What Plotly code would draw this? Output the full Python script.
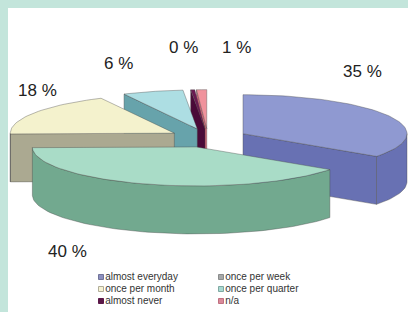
import math
import plotly.graph_objects as go

# ---------------- data ----------------
categories = ["almost everyday", "once per quarter", "once per month",
              "once per week", "almost never", "n/a"]
values = [35, 40, 18, 6, 0.4, 1]          # percent, clockwise from 12 o'clock
slice_labels = ["35 %", "40 %", "18 %", "6 %", "0 %", "1 %"]
legend_order = ["almost everyday", "once per week", "once per month",
                "once per quarter", "almost never", "n/a"]

# ---------------- styles ----------------
top_colors = ["#8f99d1", "#a9dcc7", "#f4f2cd", "#addee3", "#6b1a52", "#f0929c"]
side_colors = ["#6871b3", "#72a98f", "#aba991", "#67a3ab", "#4a0a38", "#d66a7a"]
legend_colors = {"almost everyday": "#8c8fbf", "once per week": "#a6a8a8",
                 "once per month": "#f6f2d4", "once per quarter": "#a9d9d2",
                 "almost never": "#5b1848", "n/a": "#d98a9a"}
legend_lines = {"almost everyday": "#707399", "once per week": "#8a8c8c",
                "once per month": "#b0ad98", "once per quarter": "#7fa9a2",
                "almost never": "#5b1848", "n/a": "#c07080"}

CX, CY = 208.0, 138.0   # pie centre (pixels)
RX, RY = 164.0, 39.0    # ellipse radii
DEPTH = 48.0
EXPLODE = 0.24
EDGE = "rgba(70,70,70,0.55)"

fig = go.Figure()

total = sum(values)
angles = [0.0]
for v in values:
    angles.append(angles[-1] + v / total * 360.0)


def rim(t, ox, oy, dz=0.0):
    r = math.radians(t)
    return ox + RX * math.sin(r), oy - RY * math.cos(r) + dz


def arc(t1, t2, ox, oy, dz=0.0):
    n = max(2, int(abs(t2 - t1) / 2) + 2)
    return [rim(t1 + (t2 - t1) * i / (n - 1), ox, oy, dz) for i in range(n)]


def poly(pts, color):
    xs = [p[0] for p in pts] + [pts[0][0]]
    ys = [p[1] for p in pts] + [pts[0][1]]
    fig.add_trace(go.Scatter(x=xs, y=ys, mode="lines", fill="toself",
                             fillcolor=color, line=dict(color=EDGE, width=0.7),
                             hoverinfo="skip", showlegend=False))


slices = []
for i, v in enumerate(values):
    t1, t2 = angles[i], angles[i + 1]
    mid = math.radians((t1 + t2) / 2)
    ox = CX + EXPLODE * RX * math.sin(mid)
    oy = CY - EXPLODE * RY * math.cos(mid)
    slices.append((-math.cos(mid), i, t1, t2, ox, oy))

# painter's order: far slices first
for _, i, t1, t2, ox, oy in sorted(slices):
    c = (ox, oy)
    cb = (ox, oy + DEPTH)
    if math.sin(math.radians(t1)) < -1e-9:       # start cut face
        a, b = rim(t1, ox, oy), rim(t1, ox, oy, DEPTH)
        poly([c, a, b, cb], side_colors[i])
    if math.sin(math.radians(t2)) > 1e-9:        # end cut face
        a, b = rim(t2, ox, oy), rim(t2, ox, oy, DEPTH)
        poly([c, a, b, cb], side_colors[i])
    lo, hi = max(t1, 90.0), min(t2, 270.0)       # outer rim, front half
    if hi > lo:
        poly(arc(lo, hi, ox, oy) + arc(hi, lo, ox, oy, DEPTH), side_colors[i])
    poly([c] + arc(t1, t2, ox, oy), top_colors[i])   # top face

# ---------------- labels ----------------
label_pos = [(362, 71), (67, 251), (37, 90), (118, 63), (183, 47), (236, 47)]
for txt, (lx, ly) in zip(slice_labels, label_pos):
    fig.add_annotation(x=lx, y=ly, text=txt, showarrow=False,
                       font=dict(family="Liberation Sans, Arial",
                                 size=17, color="#222222"))

# ---------------- legend (2 columns x 3 rows) ----------------
col_x = [101, 221]
row_y = [277, 289, 301]
lx, ly, lc, ll = [], [], [], []
for k, name in enumerate(legend_order):
    lx.append(col_x[k % 2])
    ly.append(row_y[k // 2])
    lc.append(legend_colors[name])
    ll.append(legend_lines[name])
fig.add_trace(go.Scatter(
    x=lx, y=ly, mode="markers+text", text=legend_order,
    textposition="middle right",
    marker=dict(symbol="square", size=5, color=lc, line=dict(color=ll, width=1)),
    textfont=dict(family="Liberation Sans, Arial", size=10, color="#333333"),
    hoverinfo="skip", showlegend=False))

fig.update_layout(
    width=408, height=312,
    margin=dict(l=8, t=8, r=0, b=0),
    paper_bgcolor="#c3e5db", plot_bgcolor="#ffffff",
    showlegend=False,
    xaxis=dict(range=[8, 408], visible=False, fixedrange=True),
    yaxis=dict(range=[312, 8], visible=False, fixedrange=True),
)

fig.write_html("out.html", config={"displayModeBar": False},
               post_script="document.body.style.margin='0';document.body.style.overflow='hidden';")
